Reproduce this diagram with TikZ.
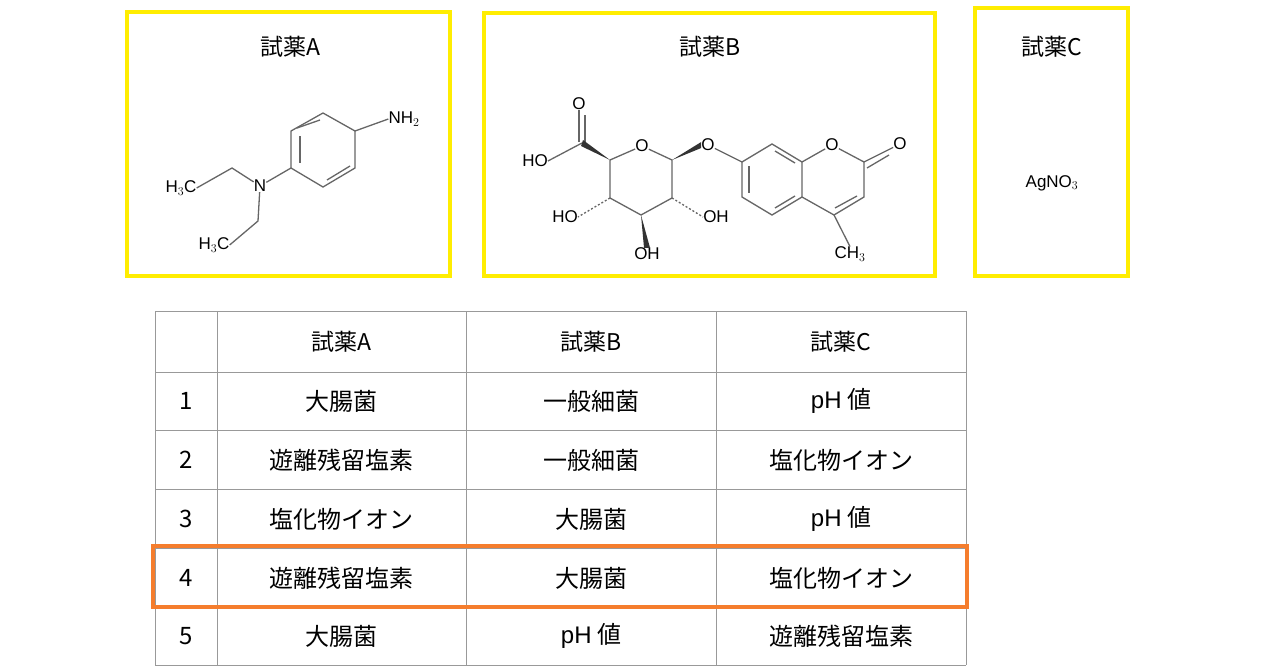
\documentclass[tikz,border=0pt]{standalone}
\usepackage{fontspec}
\usetikzlibrary{calc}
\setmainfont{Liberation Sans}
\newfontfamily\cjk{Noto Sans CJK JP}
\begin{document}
\begin{tikzpicture}[x=1pt,y=-1pt,
  ybox/.style={draw=yellow!95!orange,line width=4.5pt},
  ttl/.style={font=\cjk\fontsize{23}{26}\selectfont},
  atom/.style={font=\fontsize{17}{18}\selectfont,inner sep=0pt,fill=white},
  bnd/.style={draw=black!60,line width=1.3pt},
  cell/.style={font=\cjk\fontsize{24}{27}\selectfont},
  grid/.style={draw=black!40,line width=0.8pt}]
\useasboundingbox (0,0) rectangle (1280,669);
\fill[white] (0,0) rectangle (1280,669);
% boxes
\draw[ybox] (127,12) rectangle (450,276);
\draw[ybox] (484,13) rectangle (935,276);
\draw[ybox] (975,8) rectangle (1128,276);
\node[ttl] (tA) at (290,47) {試薬A};
\node[ttl] (tB) at (710,47) {試薬B};
\node[ttl] (tC) at (1052,47) {試薬C};
\node[atom] (agno) at (1052,183) {AgNO$_3$};
% molecule A
\coordinate (a1) at (323,113); \coordinate (a2) at (355,131); \coordinate (a3) at (355,168);
\coordinate (a4) at (323,187); \coordinate (a5) at (291,168); \coordinate (a6) at (291,131);
\draw[bnd] (a1)--(a2)--(a3)--(a4)--(a5)--(a6)--cycle;
\draw[bnd] (300,136)--(300,163);
\draw[bnd] (297,128)--(320,120);
\draw[bnd] (327,180)--(350,166);
\node[atom] (nh2) at (404,119) {NH$_2$};
\node[atom] (nA) at (260,186) {N};
\draw[bnd] (a2)--(nh2.west);
\draw[bnd] (a5)--(nA);
\coordinate (e1) at (232,168);
\coordinate (e2) at (258,221);
\node[atom] (m1) at (181,188) {H$_3$C};
\node[atom] (m2) at (214,245) {H$_3$C};
\draw[bnd] (nA)--(e1)--(m1.east);
\draw[bnd] (nA)--(e2)--(m2.east);
% molecule B sugar
\coordinate (c5) at (610,160); \node[atom] (oR) at (642,146) {O};
\coordinate (c1) at (672,160); \coordinate (c2) at (672,198);
\coordinate (c3) at (641,215); \coordinate (c4) at (610,198);
\draw[bnd] (c5)--(oR);
\draw[bnd] (oR)--(c1)--(c2)--(c3)--(c4)--(c5);
\coordinate (cc) at (582,143);
\node[atom] (oc) at (579,104) {O};
\node[atom] (hoc) at (535,161) {HO};
\draw[bnd] (579,142)--(oc.south);
\draw[bnd] (585,142)--(585,115);
\draw[bnd] (cc)--(hoc.east);
\fill[black!80] (c5) -- ($(cc)+(1,-3)$) -- ($(cc)+(-1,3)$) -- cycle;
\node[atom] (og) at (708,145) {O};
\fill[black!80] (c1) -- ($(og.west)+(0,-3)$) -- ($(og.west)+(0,3)$) -- cycle;
\node[atom] (ho4) at (565,217) {HO};
\node[atom] (oh2) at (716,217) {OH};
\node[atom] (oh3) at (647,254) {OH};
\draw[bnd,dash pattern=on 2pt off 2pt] (c4)--(ho4.east);
\draw[bnd,dash pattern=on 2pt off 2pt] (c2)--(oh2.west);
\fill[black!80] (c3) -- ($(oh3.north)+(-3,0)$) -- ($(oh3.north)+(3,0)$) -- cycle;
% coumarin
\coordinate (k7) at (742,162); \coordinate (k8) at (772,144); \coordinate (k8a) at (802,162);
\coordinate (k4a) at (802,197); \coordinate (k5) at (772,215); \coordinate (k6) at (742,197);
\node[atom] (ok) at (832,145) {O};
\coordinate (k2) at (864,162); \coordinate (k3) at (864,197); \coordinate (k4) at (834,215);
\node[atom] (ok2) at (900,144) {O};
\node[atom] (ch3) at (850,254) {CH$_3$};
\draw[bnd] (og)--(k7);
\draw[bnd] (k7)--(k8)--(k8a)--(k4a)--(k5)--(k6)--cycle;
\draw[bnd] (k8a)--(ok)--(k2)--(k3)--(k4)--(k4a);
\draw[bnd] (749,166)--(749,193);
\draw[bnd] (775,151)--(795,163);
\draw[bnd] (775,208)--(795,196);
\draw[bnd] (857,196)--(835,208);
\draw[bnd] (k2)--(ok2);
\draw[bnd] (867,168)--(889,155);
\draw[bnd] (k4)--(ch3.north);
% table
\foreach \x in {155,217,466,716,966} \draw[grid] (\x,311)--(\x,665);
\foreach \y in {311,372,430,489,548,607,665} \draw[grid] (155,\y)--(966,\y);
\node[ttl] (hA) at (341,342) {試薬A};
\node[ttl] (hB) at (591,342) {試薬B};
\node[ttl] (hC) at (841,342) {試薬C};
\foreach \r/\y/\a/\b/\c in {1/401/大腸菌/一般細菌/{\rmfamily pH} 値,
  2/460/遊離残留塩素/一般細菌/塩化物イオン,
  3/519/塩化物イオン/大腸菌/{\rmfamily pH} 値,
  4/578/遊離残留塩素/大腸菌/塩化物イオン,
  5/636/大腸菌/{\rmfamily pH} 値/遊離残留塩素}{
  \node[cell] (n\r) at (186,\y) {\r};
  \node[cell] (a\r) at (341,\y) {\a};
  \node[cell] (b\r) at (591,\y) {\b};
  \node[cell] (c\r) at (841,\y) {\c};
}
\draw[draw={rgb,255:red,245;green,125;blue,45},line width=4pt] (153,546) rectangle (967,607);
\end{tikzpicture}
\end{document}
